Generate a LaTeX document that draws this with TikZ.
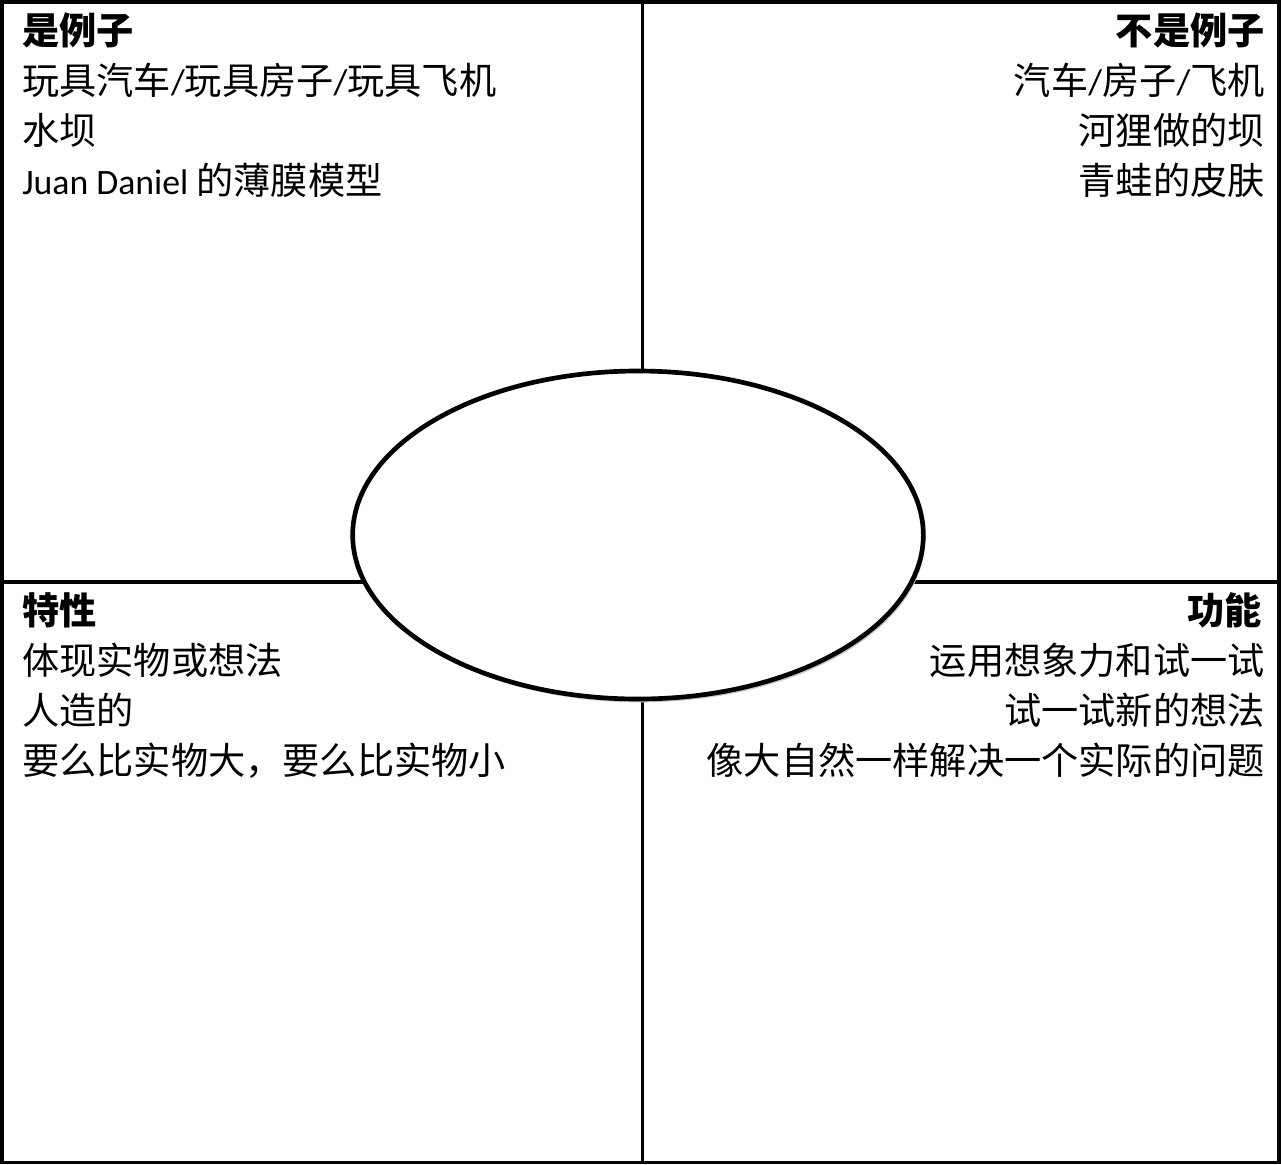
\documentclass[tikz,border=0pt]{standalone}
\usepackage{fontspec}
\setmainfont{Carlito}
\newfontfamily\cjk{Noto Sans CJK SC}
\usetikzlibrary{shapes.geometric,shadows}
\newcommand\lat{\fontsize{26.8pt}{33pt}\selectfont\rmfamily}
\tikzset{
  x=0.75pt, y=-0.75pt,
  frame/.style={line width=2.8pt, line cap=rect},
  cell/.style={font=\fontsize{27.9pt}{33pt}\selectfont\cjk, inner sep=0pt},
  lcell/.style={cell, anchor=base west},
  rcell/.style={cell, anchor=base east},
  lhead/.style={lcell, font=\fontsize{27.9pt}{33pt}\selectfont\cjk\bfseries},
  rhead/.style={rcell, font=\fontsize{27.9pt}{33pt}\selectfont\cjk\bfseries},
  hub/.style={draw, ellipse, fill=white, line width=3.5pt, inner sep=0pt,
    minimum width=428pt, minimum height=246pt,
    drop shadow={shadow xshift=1.5pt, shadow yshift=-2.5pt, fill=black!22, opacity=1}},
}
\begin{document}
\begin{tikzpicture}
\useasboundingbox (0,0) rectangle (1281,1164);
% grid
\draw[frame] (2,2) rectangle (1279,1162.5);
\draw[frame] (642.5,2) -- (642.5,1162.5);
\draw[frame] (2,582) -- (1279,582);
% centre ellipse
\node[hub] (centre) at (638,535) {};
% top left
\node[lhead] (tlh) at (22,44) {是例子};
\node[lcell] (tl1) at (22,94) {玩具汽车{\lat /}玩具房子{\lat /}玩具飞机};
\node[lcell] (tl2) at (22,144) {水坝};
\node[lcell] (tl3) at (22,194) {{\lat Juan Daniel }的薄膜模型};
% top right
\node[rhead] (trh) at (1265,44) {不是例子};
\node[rcell] (tr1) at (1265,94) {汽车{\lat /}房子{\lat /}飞机};
\node[rcell] (tr2) at (1265,144) {河狸做的坝};
\node[rcell] (tr3) at (1265,194) {青蛙的皮肤};
% bottom left
\node[lhead] (blh) at (22,624) {特性};
\node[lcell] (bl1) at (22,674) {体现实物或想法};
\node[lcell] (bl2) at (22,724) {人造的};
\node[lcell] (bl3) at (22,774) {要么比实物大，要么比实物小};
% bottom right
\node[rhead] (brh) at (1262,624) {功能};
\node[rcell] (br1) at (1265,674) {运用想象力和试一试};
\node[rcell] (br2) at (1265,724) {试一试新的想法};
\node[rcell] (br3) at (1265,774) {像大自然一样解决一个实际的问题};
\end{tikzpicture}
\end{document}
